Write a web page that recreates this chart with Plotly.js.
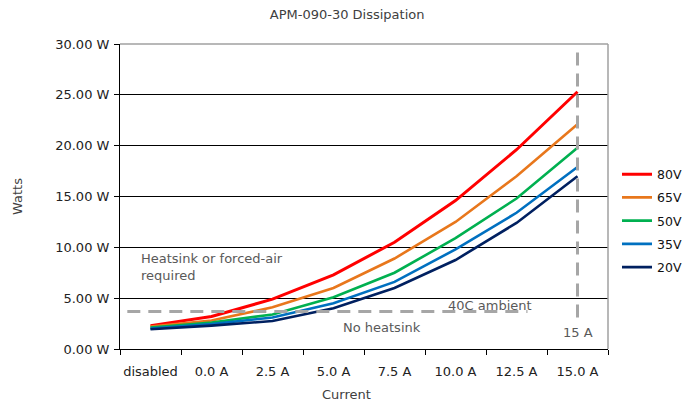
<!DOCTYPE html>
<html>
<head>
<meta charset="utf-8">
<script src="https://cdn.plot.ly/plotly-3.0.1.min.js"></script>
<style>html,body{margin:0;padding:0;background:#fff;}#chart{width:694px;height:404px;}</style>
</head>
<body>
<div id="chart"></div>
<script>
// ---- data ----
const categories = ['disabled', '0.0 A', '2.5 A', '5.0 A', '7.5 A', '10.0 A', '12.5 A', '15.0 A'];
const seriesNames = ['80V', '65V', '50V', '35V', '20V'];
const v80 = [2.3, 3.2, 4.9, 7.3, 10.5, 14.6, 19.6, 25.3];
const v65 = [2.2, 2.8, 4.1, 6.0, 8.9, 12.5, 17.0, 22.1];
const v50 = [2.1, 2.6, 3.4, 5.1, 7.5, 10.9, 14.8, 19.8];
const v35 = [2.0, 2.45, 3.1, 4.5, 6.6, 9.8, 13.4, 17.9];
const v20 = [1.95, 2.3, 2.75, 4.0, 6.0, 8.75, 12.4, 17.0];
const seriesColors = ['#FF0000', '#E8771C', '#00B050', '#0070C0', '#002060'];
const ambientLimitW = 3.7;      // 40C ambient, no heatsink limit
const maxCurrentLabel = '15.0 A';
const yTicks = [0, 5, 10, 15, 20, 25, 30];
const yTickText = yTicks.map(v => v.toFixed(2) + ' W');

const seriesValues = [v80, v65, v50, v35, v20];
const FONT = 'DejaVu Sans, Verdana, sans-serif';

const traces = seriesValues.map((vals, i) => ({
  type: 'scatter', mode: 'lines',
  x: categories, y: vals,
  name: seriesNames[i],
  legendgroup: seriesNames[i],
  line: {color: seriesColors[i], width: i === 0 ? 3 : 2.6},
  hoverinfo: 'skip'
}));

const maxIdx = categories.indexOf(maxCurrentLabel);

const layout = {
  width: 694, height: 404,
  margin: {l: 120, r: 86, t: 44, b: 55},
  paper_bgcolor: '#ffffff', plot_bgcolor: '#ffffff',
  showlegend: true,
  title: {text: 'APM-090-30 Dissipation', x: 323/694, xanchor: 'center', xref: 'paper',
          yref: 'container', y: 1 - 14/404, yanchor: 'middle',
          font: {family: FONT, size: 13, color: '#404040'}},
  xaxis: {
    type: 'category', range: [-0.5, categories.length - 0.5],
    tickson: 'boundaries', ticks: 'outside', ticklen: 5, tickcolor: '#000', tickwidth: 1,
    tickangle: 0, ticklabelstandoff: 10,
    showline: true, linecolor: '#000', linewidth: 1,
    showgrid: false, zeroline: false,
    tickfont: {family: FONT, size: 13, color: '#222'},
    fixedrange: true
  },
  yaxis: {
    range: [0, 30], tickmode: 'array', tickvals: yTicks, ticktext: yTickText,
    ticks: 'outside', ticklen: 5, tickcolor: '#000', ticklabelstandoff: 2,
    showline: true, linecolor: '#000', linewidth: 1,
    showgrid: true, gridcolor: '#000', gridwidth: 1, zeroline: false,
    tickfont: {family: FONT, size: 13, color: '#222'},
    title: {text: 'Watts', standoff: 29, font: {family: FONT, size: 13, color: '#404040'}},
    fixedrange: true
  },
  legend: {
    xref: 'container', yref: 'container',
    x: 617/694, xanchor: 'left', y: 1 - 221/404, yanchor: 'middle',
    traceorder: 'grouped', tracegroupgap: 4,
    font: {family: FONT, size: 12.5, color: '#111'},
    bgcolor: 'rgba(0,0,0,0)', itemwidth: 30
  },
  shapes: [
    // gray top & right plot border
    {type: 'line', xref: 'paper', yref: 'paper', x0: 0, x1: 1, y0: 1, y1: 1, line: {color: '#A0A0A0', width: 1.5}, layer: 'above'},
    {type: 'line', xref: 'paper', yref: 'paper', x0: 1, x1: 1, y0: 0, y1: 1, line: {color: '#A0A0A0', width: 1.5}, layer: 'above'},
    // 40C ambient limit
    {type: 'line', xref: 'x', yref: 'y', x0: -0.38, x1: 6.18, y0: ambientLimitW, y1: ambientLimitW,
     line: {color: '#A6A6A6', width: 3, dash: '13px,8px'}},
    // 15 A limit
    {type: 'line', xref: 'x', yref: 'y', x0: maxIdx, x1: maxIdx, y0: 3.1, y1: 29.6,
     line: {color: '#A6A6A6', width: 3, dash: '13px,8px'}}
  ],
  annotations: [
    {text: 'Heatsink or forced-air<br>required', xref: 'paper', yref: 'paper',
     x: (139-120)/488, y: (349-267)/305, xanchor: 'left', yanchor: 'middle', align: 'left',
     showarrow: false, font: {family: FONT, size: 13, color: '#595959'}},
    {text: '40C ambient', xref: 'paper', yref: 'paper', x: (490-120)/488, y: (349-305)/305,
     xanchor: 'center', yanchor: 'middle', showarrow: false, font: {family: FONT, size: 13, color: '#595959'}},
    {text: 'No heatsink', xref: 'paper', yref: 'paper', x: (382-120)/488, y: (349-327)/305,
     xanchor: 'center', yanchor: 'middle', showarrow: false, font: {family: FONT, size: 13, color: '#595959'}},
    {text: '15 A', xref: 'paper', yref: 'paper', x: (578-120)/488, y: (349-332)/305,
     xanchor: 'center', yanchor: 'middle', showarrow: false, font: {family: FONT, size: 13, color: '#595959'}},
    {text: 'Current', xref: 'paper', yref: 'paper', x: (346-120)/488, y: -(395-349)/305,
     xanchor: 'center', yanchor: 'middle', showarrow: false, font: {family: FONT, size: 13, color: '#404040'}}
  ]
};

Plotly.newPlot('chart', traces, layout, {staticPlot: true, displayModeBar: false});
</script>
</body>
</html>
